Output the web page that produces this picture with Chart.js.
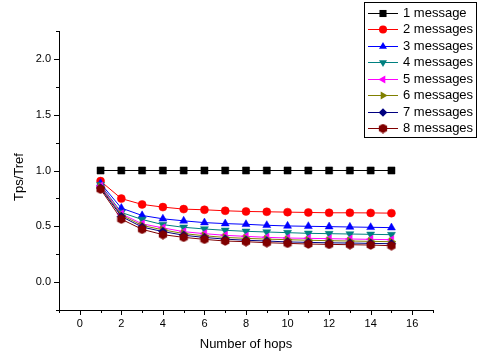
<!DOCTYPE html>
<html>
<head>
<meta charset="utf-8">
<script src="https://cdn.jsdelivr.net/npm/chart.js@4/dist/chart.umd.min.js"></script>
<style>
html,body{margin:0;padding:0;background:#fff;}
#wrap{width:479px;height:356px;}
</style>
</head>
<body>
<div id="wrap"><canvas id="c" width="479" height="356"></canvas></div>
<script>
const hops = [1,2,3,4,5,6,7,8,9,10,11,12,13,14,15];
const seriesNames = ['1 message','2 messages','3 messages','4 messages','5 messages','6 messages','7 messages','8 messages'];
const s1 = [1.0,1.0,1.0,1.0,1.0,1.0,1.0,1.0,1.0,1.0,1.0,1.0,1.0,1.0,1.0];
const s2 = [0.905,0.748,0.696,0.672,0.654,0.648,0.639,0.633,0.630,0.627,0.624,0.621,0.621,0.620,0.618];
const s3 = [0.885,0.663,0.597,0.567,0.549,0.533,0.524,0.518,0.509,0.503,0.500,0.497,0.494,0.491,0.488];
const s4 = [0.872,0.624,0.561,0.515,0.491,0.476,0.464,0.455,0.449,0.443,0.437,0.434,0.431,0.428,0.425];
const s5 = [0.862,0.612,0.522,0.486,0.452,0.434,0.419,0.410,0.401,0.395,0.392,0.389,0.386,0.383,0.380];
const s6 = [0.852,0.600,0.508,0.468,0.435,0.415,0.400,0.392,0.385,0.380,0.375,0.371,0.368,0.365,0.362];
const s7 = [0.843,0.588,0.493,0.453,0.420,0.400,0.385,0.375,0.368,0.360,0.356,0.352,0.350,0.347,0.344];
const s8 = [0.832,0.564,0.473,0.425,0.401,0.383,0.368,0.362,0.353,0.347,0.341,0.338,0.335,0.332,0.326];
const seriesValues = [s1,s2,s3,s4,s5,s6,s7,s8];
const xTitle = 'Number of hops';
const yTitle = 'Tps/Tref';

const colors = ['#000000','#FF0000','#0000FF','#008080','#FF00FF','#808000','#000080','#800000'];
const FONT = 'Arial, "Liberation Sans", sans-serif';

function hexCanvas(color){
  const c = document.createElement('canvas');
  c.width = 10; c.height = 10;
  const g = c.getContext('2d');
  g.fillStyle = color;
  g.beginPath();
  for(let i=0;i<6;i++){
    const a = Math.PI/6 + i*Math.PI/3;
    const px = 5 + 4.8*Math.cos(a), py = 5 + 4.8*Math.sin(a);
    if(i===0) g.moveTo(px,py); else g.lineTo(px,py);
  }
  g.closePath(); g.fill();
  return c;
}
const hexImg = hexCanvas(colors[7]);

const styles = [
  {ps:'rect', r:5, rot:0},
  {ps:'circle', r:4, rot:0},
  {ps:'triangle', r:4.6, rot:0},
  {ps:'triangle', r:4.6, rot:180},
  {ps:'triangle', r:4.6, rot:270},
  {ps:'triangle', r:4.6, rot:90},
  {ps:'rectRot', r:4.3, rot:0},
  {ps:hexImg, r:5, rot:0}
];

const datasets = seriesValues.map((vals,i)=>({
  label: seriesNames[i],
  data: hops.map((h,j)=>({x:h, y:vals[j]})),
  borderColor: colors[i],
  backgroundColor: colors[i],
  borderWidth: 1,
  pointStyle: styles[i].ps,
  pointRadius: styles[i].r,
  pointRotation: styles[i].rot,
  pointBorderWidth: 0.5,
  pointBorderColor: colors[i],
  pointBackgroundColor: colors[i],
  fill: false,
  tension: 0,
  order: 8 - i
}));

function drawMarker(ctx, st, color, x, y){
  ctx.save();
  ctx.fillStyle = color;
  ctx.translate(x,y);
  const r = st.r;
  if(st.ps === 'rect'){
    const s = r*Math.SQRT1_2;
    ctx.fillRect(-s,-s,2*s,2*s);
  } else if(st.ps === 'circle'){
    ctx.beginPath(); ctx.arc(0,0,r,0,Math.PI*2); ctx.fill();
  } else if(st.ps === 'triangle'){
    ctx.rotate(st.rot*Math.PI/180);
    ctx.beginPath();
    for(let k=0;k<3;k++){
      const a = -Math.PI/2 + k*2*Math.PI/3;
      const px = r*Math.cos(a), py = r*Math.sin(a);
      if(k===0) ctx.moveTo(px,py); else ctx.lineTo(px,py);
    }
    ctx.closePath(); ctx.fill();
  } else if(st.ps === 'rectRot'){
    ctx.beginPath(); ctx.moveTo(0,-r); ctx.lineTo(r,0); ctx.lineTo(0,r); ctx.lineTo(-r,0); ctx.closePath(); ctx.fill();
  } else {
    ctx.drawImage(st.ps,-5,-5);
  }
  ctx.restore();
}

const decor = {
  id:'decor',
  afterDraw(chart){
    const ctx = chart.ctx;
    const xs = chart.scales.x, ys = chart.scales.y;
    const ca = chart.chartArea;
    ctx.save();
    ctx.strokeStyle = '#000';
    ctx.lineWidth = 1;
    xs.ticks.forEach(t=>{
      const px = Math.round(xs.getPixelForValue(t.value)) + 0.5;
      const major = Math.abs(t.value % 2) < 1e-9;
      const len = major ? 5 : 3;
      ctx.beginPath(); ctx.moveTo(px, ca.bottom); ctx.lineTo(px, ca.bottom + len); ctx.stroke();
    });
    ys.ticks.forEach(t=>{
      const py = Math.round(ys.getPixelForValue(t.value)) + 0.5;
      const v2 = t.value*2;
      const major = Math.abs(v2 - Math.round(v2)) < 1e-6;
      const len = major ? 5 : 3;
      ctx.beginPath(); ctx.moveTo(ca.left, py); ctx.lineTo(ca.left - len, py); ctx.stroke();
    });
    ctx.fillStyle = '#000';
    ctx.font = '13px ' + FONT;
    ctx.textAlign = 'center';
    ctx.textBaseline = 'alphabetic';
    ctx.fillText(xTitle, (ca.left + ca.right)/2, 348);
    ctx.save();
    ctx.translate(23, 177);
    ctx.rotate(-Math.PI/2);
    ctx.fillText(yTitle, 0, 0);
    ctx.restore();
    ctx.fillStyle = '#fff';
    ctx.fillRect(364, 2, 113, 136);
    ctx.strokeStyle = '#000';
    ctx.strokeRect(364.5, 2.5, 112, 135);
    chart.data.datasets.forEach((ds,i)=>{
      const cy = 12.5 + i*16.5;
      ctx.strokeStyle = ds.borderColor;
      ctx.lineWidth = 1;
      ctx.beginPath(); ctx.moveTo(368, Math.round(cy)+0.5); ctx.lineTo(398, Math.round(cy)+0.5); ctx.stroke();
      drawMarker(ctx, styles[i], ds.borderColor, 383, Math.round(cy)+0.5);
      ctx.fillStyle = '#000';
      ctx.font = '13px ' + FONT;
      ctx.textAlign = 'left';
      ctx.textBaseline = 'middle';
      ctx.fillText(ds.label, 403, cy + 0.5);
    });
    ctx.restore();
  }
};

new Chart(document.getElementById('c'), {
  type: 'line',
  data: { datasets },
  options: {
    responsive: false,
    devicePixelRatio: 1,
    animation: false,
    layout: { padding: { top: 31, right: 46, left: 0, bottom: 0 } },
    plugins: { legend: { display: false }, tooltip: { enabled: false } },
    scales: {
      x: {
        type: 'linear', min: -1, max: 17,
        grid: { display: false, drawTicks: true, tickLength: 5 },
        border: { display: true, color: '#000', width: 1 },
        ticks: {
          stepSize: 1, autoSkip: false, maxRotation: 0, padding: 2,
          color: '#000', font: { family: FONT, size: 11 },
          callback: v => (Math.abs(v % 2) < 1e-9 ? String(v) : '')
        },
        afterFit: s => { s.height = 46; }
      },
      y: {
        type: 'linear', min: -0.25, max: 2.25,
        grid: { display: false, drawTicks: true, tickLength: 5 },
        border: { display: true, color: '#000', width: 1 },
        ticks: {
          stepSize: 0.25, autoSkip: false, padding: 3,
          color: '#000', font: { family: FONT, size: 11 },
          callback: v => { const v2 = v*2; return Math.abs(v2 - Math.round(v2)) < 1e-6 ? (Math.round(v2)/2).toFixed(1) : ''; }
        },
        afterFit: s => { s.width = 59; }
      }
    }
  },
  plugins: [decor]
});
</script>
</body>
</html>
